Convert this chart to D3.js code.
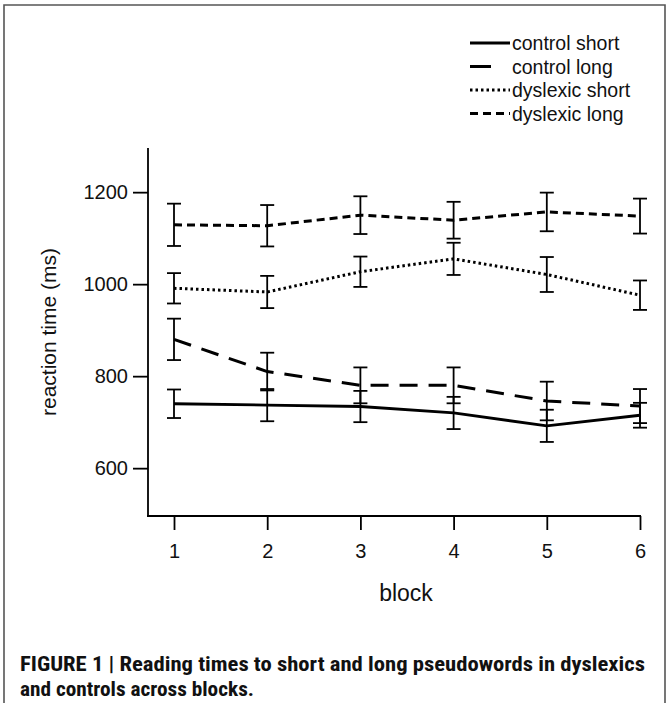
<!DOCTYPE html>
<html lang="en">
<head>
    <meta charset="UTF-8">
    <title>Reading times</title>
    <script src="https://d3js.org/d3.v7.min.js"></script>
    <style>
        body { margin: 0; background: #fff; }
        svg { display: block; }
    </style>
</head>
<body>
<svg width="667" height="703"></svg>
<script>
    // data
    const blocks = [1, 2, 3, 4, 5, 6];
    const seriesNames = ["control short", "control long", "dyslexic short", "dyslexic long"];
    const controlShort = [740, 737, 734, 720, 692, 715];
    const controlShortErr = [31, 35, 34, 35, 35, 27];
    const controlLong = [880, 810, 780, 780, 746, 735];
    const controlLongErr = [45, 41, 39, 39, 42, 37];
    const dyslexicShort = [991, 983, 1027, 1055, 1021, 976];
    const dyslexicShortErr = [33, 35, 33, 35, 38, 32];
    const dyslexicLong = [1129, 1127, 1150, 1139, 1157, 1148];
    const dyslexicLongErr = [46, 45, 41, 40, 42, 38];
    const yTicks = [600, 800, 1000, 1200];
    const captionLines = [
        "FIGURE 1 | Reading times to short and long pseudowords in dyslexics",
        "and controls across blocks."
    ];
    const captionWidths = [625, 234];

    const series = [
        {name: seriesNames[0], vals: controlShort, err: controlShortErr, dash: null},
        {name: seriesNames[1], vals: controlLong, err: controlLongErr, dash: "18,11"},
        {name: seriesNames[2], vals: dyslexicShort, err: dyslexicShortErr, dash: "2.5,3"},
        {name: seriesNames[3], vals: dyslexicLong, err: dyslexicLongErr, dash: "8,5"}
    ];

    const svg = d3.select("svg");
    const font = "Arial, 'Liberation Sans', sans-serif";

    // frame
    svg.append("path")
        .attr("d", "M4,710 V5 H665 V710")
        .attr("fill", "none")
        .attr("stroke", "#555")
        .attr("stroke-width", 1.6);

    let x = d3.scaleLinear().domain([1, 6]).range([174, 640]);
    let y = d3.scaleLinear().domain([496, 1296]).range([516, 148]);

    // axes
    svg.append("line").attr("x1", 148).attr("x2", 148).attr("y1", 148).attr("y2", 516)
        .attr("stroke", "#000").attr("stroke-width", 1.8);
    svg.append("line").attr("x1", 147).attr("x2", 641).attr("y1", 516).attr("y2", 516)
        .attr("stroke", "#000").attr("stroke-width", 1.8);

    let yAxis = svg.append("g").attr("transform", "translate(148,0)")
        .call(d3.axisLeft(y).tickValues(yTicks).tickSize(15).tickPadding(5).tickFormat(d3.format("d")));
    yAxis.select(".domain").remove();
    yAxis.selectAll("line").attr("stroke-width", 1.8);
    yAxis.selectAll("text").attr("font-family", font).attr("font-size", 20).attr("fill", "#111");

    let xAxis = svg.append("g").attr("transform", "translate(0,516)")
        .call(d3.axisBottom(x).tickValues(blocks).tickSize(14).tickPadding(14).tickFormat(d3.format("d")));
    xAxis.select(".domain").remove();
    xAxis.selectAll("line").attr("stroke-width", 1.8);
    xAxis.selectAll("text").attr("font-family", font).attr("font-size", 20).attr("fill", "#111");

    svg.append("text").attr("x", 406).attr("y", 601).attr("text-anchor", "middle")
        .attr("font-family", font).attr("font-size", 23).attr("fill", "#111").text("block");
    svg.append("text").attr("transform", "translate(56,332) rotate(-90)").attr("text-anchor", "middle")
        .attr("font-family", font).attr("font-size", 21).attr("fill", "#111").text("reaction time (ms)");

    // error bars
    series.forEach(function (s) {
        let g = svg.append("g").attr("stroke", "#000").attr("stroke-width", 1.8);
        blocks.forEach(function (b, i) {
            let lo = y(s.vals[i] - s.err[i]), hi = y(s.vals[i] + s.err[i]);
            g.append("line").attr("x1", x(b)).attr("x2", x(b)).attr("y1", lo).attr("y2", hi);
            g.append("line").attr("x1", x(b) - 7).attr("x2", x(b) + 7).attr("y1", lo).attr("y2", lo);
            g.append("line").attr("x1", x(b) - 7).attr("x2", x(b) + 7).attr("y1", hi).attr("y2", hi);
        });
    });

    // lines
    let line = d3.line().x(function (d, i) { return x(blocks[i]); }).y(function (d) { return y(d); });
    series.forEach(function (s) {
        svg.append("path").attr("d", line(s.vals))
            .attr("fill", "none").attr("stroke", "#000")
            .attr("stroke-width", s.dash ? 3 : 2.8)
            .attr("stroke-dasharray", s.dash);
    });

    // legend
    let lg = svg.append("g");
    series.forEach(function (s, i) {
        let ly = 43 + i * 23.5;
        let x2 = i == 1 ? 491 : 510;
        lg.append("line").attr("x1", 470).attr("x2", x2).attr("y1", ly).attr("y2", ly)
            .attr("stroke", "#000").attr("stroke-width", 3)
            .attr("stroke-dasharray", i == 1 ? null : s.dash);
        lg.append("text").attr("x", 512).attr("y", ly + 7)
            .attr("font-family", font).attr("font-size", 19.5).attr("fill", "#111").text(s.name);
    });

    // caption
    captionLines.forEach(function (t, i) {
        svg.append("text").attr("x", 20).attr("y", 671 + i * 25)
            .attr("font-family", "'Roboto Condensed', 'Liberation Sans Narrow', 'Liberation Sans', Arial, sans-serif")
            .attr("font-weight", "bold").attr("font-size", 20).attr("fill", "#111")
            .attr("textLength", captionWidths[i])
            .attr("lengthAdjust", "spacingAndGlyphs")
            .text(t);
    });
</script>
</body>
</html>
